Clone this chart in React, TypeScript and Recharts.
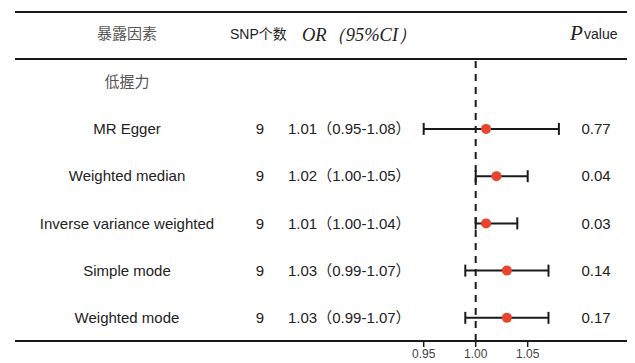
import React from "react";
import {
  ComposedChart,
  Scatter,
  ErrorBar,
  XAxis,
  YAxis,
  ReferenceLine,
  Customized,
} from "recharts";

// rows of the forest plot (index 0 is the exposure group header)
const groupLabel = "低握力";
const methods = [
  "MR Egger",
  "Weighted median",
  "Inverse variance weighted",
  "Simple mode",
  "Weighted mode",
];
const snpCounts = [9, 9, 9, 9, 9];
const orValues = [1.01, 1.02, 1.01, 1.03, 1.03];
const ciLower = [0.95, 1.0, 1.0, 0.99, 0.99];
const ciUpper = [1.08, 1.05, 1.04, 1.07, 1.07];
const pValues = ["0.77", "0.04", "0.03", "0.14", "0.17"];
const xTicks = [0.95, 1.0, 1.05];

const sans = "'Liberation Sans', Arial, 'Noto Sans CJK SC', sans-serif";
const cjk = "'Noto Sans CJK SC', sans-serif";
const serif = "'Liberation Serif', 'Times New Roman', serif";

const points = methods.map((m, i) => ({
  row: i + 1,
  or: orValues[i],
  err: [orValues[i] - ciLower[i], ciUpper[i] - orValues[i]],
}));

const rowTicks = [0, ...methods.map((_, i) => i + 1)];

function fmt(v: number) {
  return v.toFixed(2);
}

function renderRowTick(props: any) {
  const { y, payload } = props;
  const idx = Math.round(Number(payload.value));
  if (idx === 0) {
    return (
      <text x={127} y={y} dy="0.35em" textAnchor="middle" fontSize={15} fill="#555" fontFamily={cjk}>
        {groupLabel}
      </text>
    );
  }
  const i = idx - 1;
  return (
    <g fontFamily={sans} fontSize={15} fill="#222">
      <text x={127} y={y} dy="0.35em" textAnchor="middle">
        {methods[i]}
      </text>
      <text x={260} y={y} dy="0.35em" textAnchor="middle">
        {snpCounts[i]}
      </text>
      <text x={288} y={y} dy="0.35em" textAnchor="start">
        {`${fmt(orValues[i])}（${fmt(ciLower[i])}-${fmt(ciUpper[i])}）`}
      </text>
      <text x={596} y={y} dy="0.35em" textAnchor="middle">
        {pValues[i]}
      </text>
    </g>
  );
}

function HeaderLayer() {
  return (
    <g>
      <line x1={15} x2={627} y1={12} y2={12} stroke="#1a1a1a" strokeWidth={2} />
      <line x1={15} x2={627} y1={59} y2={59} stroke="#1a1a1a" strokeWidth={2} />
      <text x={127} y={34} dy="0.35em" textAnchor="middle" fontSize={15} fill="#555" fontFamily={cjk}>
        暴露因素
      </text>
      <text x={230} y={34} dy="0.35em" fontSize={14} fill="#222" fontFamily={sans}>
        SNP个数
      </text>
      <text x={302} y={35} dy="0.35em" fontSize={18.5} fill="#222" fontFamily={serif} fontStyle="italic">
        OR（95%CI）
      </text>
      <text x={570} y={40} fontFamily={serif} fontStyle="italic" fontSize={21} fill="#222">
        P
      </text>
      <text x={584} y={34} dy="0.35em" fontFamily={sans} fontSize={14} fill="#222">
        value
      </text>
    </g>
  );
}

function Dot(props: any) {
  const { cx, cy } = props;
  return <circle cx={cx} cy={cy} r={5} fill="#e8452f" />;
}

export default function App() {
  return (
    <div style={{ position: "absolute", left: 0, top: 0, width: 635, height: 363, background: "#fff" }}>
      <ComposedChart
        width={635}
        height={363}
        data={points}
        margin={{ top: 59, right: 8, bottom: 0, left: 14 }}
      >
        <XAxis
          type="number"
          dataKey="or"
          domain={[0.557, 1.1455]}
          allowDataOverflow
          ticks={xTicks}
          tickFormatter={fmt}
          height={22}
          axisLine={{ stroke: "#1a1a1a", strokeWidth: 2 }}
          tickLine={{ stroke: "#1a1a1a", strokeWidth: 1.5 }}
          tickSize={6}
          tick={{ fontSize: 12, fill: "#444", fontFamily: sans }}
        />
        <YAxis
          type="number"
          dataKey="row"
          domain={[-0.48, 5.49]}
          allowDataOverflow
          reversed
          ticks={rowTicks}
          interval={0}
          width={1}
          axisLine={false}
          tickLine={false}
          tick={renderRowTick}
        />
        <ReferenceLine x={1} stroke="#1a1a1a" strokeWidth={2} strokeDasharray="7 6" />
        <Scatter dataKey="or" shape={<Dot />} isAnimationActive={false}>
          <ErrorBar
            dataKey="err"
            direction="x"
            width={6}
            stroke="#1a1a1a"
            strokeWidth={2}
            isAnimationActive={false}
          />
        </Scatter>
        <Customized component={<HeaderLayer />} />
      </ComposedChart>
    </div>
  );
}
